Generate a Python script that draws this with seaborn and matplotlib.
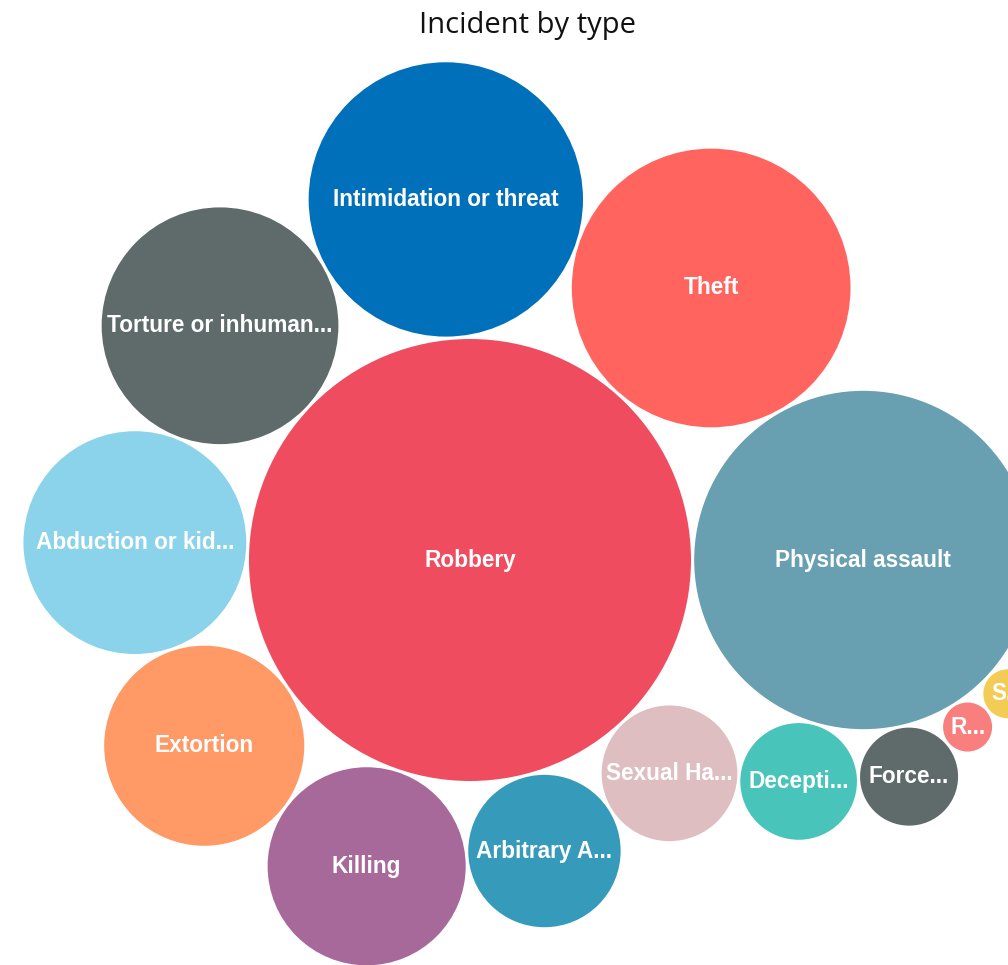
import numpy as np
import pandas as pd
import seaborn as sns
import matplotlib.pyplot as plt
from matplotlib.patches import Circle

# incident counts per type
types = ['Robbery', 'Physical assault', 'Theft', 'Intimidation or threat',
         'Torture or inhuman treatment', 'Abduction or kidnapping', 'Extortion',
         'Killing', 'Arbitrary Arrest', 'Sexual Harassment', 'Deception',
         'Forced labour', 'Rape', 'Sexual violence']
labels = ['Robbery', 'Physical assault', 'Theft', 'Intimidation or threat',
          'Torture or inhuman...', 'Abduction or kid...', 'Extortion',
          'Killing', 'Arbitrary A...', 'Sexual Ha...', 'Decepti...',
          'Force...', 'R...', 'S...']
counts = [244, 143, 97, 94, 70, 62, 50, 49, 29, 23, 17, 12, 3, 3]
colors = ['#EF4C60', '#68A0B1', '#FF645F', '#0070BA', '#5F6B6B', '#8BD3EA',
          '#FF9966', '#A66999', '#369ABA', '#DEBEC0', '#49C4BA', '#5F6B6B',
          '#F97E7E', '#F2CC55']

df = pd.DataFrame({'type': types, 'label': labels, 'count': counts, 'color': colors})
df = df.sort_values('count', ascending=False, kind='stable').reset_index(drop=True)

max_r = 221.0   # pixel radius of the largest bubble
pad = 3.2
df['r'] = max_r * np.sqrt(df['count'] / df['count'].max())


def tangent(a, b, r):
    # centre of a circle of radius r touching a and b, counter-clockwise around a
    (xa, ya, ra), (xb, yb, rb) = a, b
    da, db = ra + r + pad, rb + r + pad
    v = np.array([xb - xa, yb - ya])
    d = np.hypot(*v)
    u = v / d
    x = (da**2 - db**2 + d**2) / (2 * d)
    h = np.sqrt(max(da**2 - x**2, 0))
    p = np.array([xa, ya]) + x * u + h * np.array([-u[1], u[0]])
    return p[0], p[1]


# packed bubble layout: rings around the biggest bubble
placed = [(0.0, 0.0, df.r[0])]
placed.append((df.r[0] + df.r[1] + pad, 0.0, df.r[1]))
anchor = 0
for i in range(2, len(df)):
    r = df.r[i]
    prev = len(placed) - 1
    while True:
        x, y = tangent(placed[anchor], placed[prev], r)
        ok = all(np.hypot(x - cx, y - cy) >= cr + r + pad - 0.5
                 for j, (cx, cy, cr) in enumerate(placed) if j not in (anchor, prev))
        if ok or anchor + 1 >= prev:
            break
        anchor += 1
    placed.append((x, y, r))

df['x'] = [p[0] for p in placed]
df['y'] = [p[1] for p in placed]

sns.set_theme(style='white')
fig = plt.figure(figsize=(10.08, 9.65), dpi=100)
ax = fig.add_axes([0, 0, 1, 1])
ax.set_xlim(-470, 538)
ax.set_ylim(-405, 560)
ax.set_aspect('equal')
ax.axis('off')

for _, row in df.iterrows():
    ax.add_patch(Circle((row.x, row.y), row.r, facecolor=row.color, edgecolor='none'))
    ax.text(row.x, row.y, row.label, ha='center', va='center', color='white',
            fontsize=16.3, fontweight='bold', family='Liberation Sans')

fig.text(0.523, 1 - 25 / 965, 'Incident by type', ha='center', va='center',
         fontsize=21, family='Open Sans', color='#111111')

plt.savefig('out.png', dpi=100)
